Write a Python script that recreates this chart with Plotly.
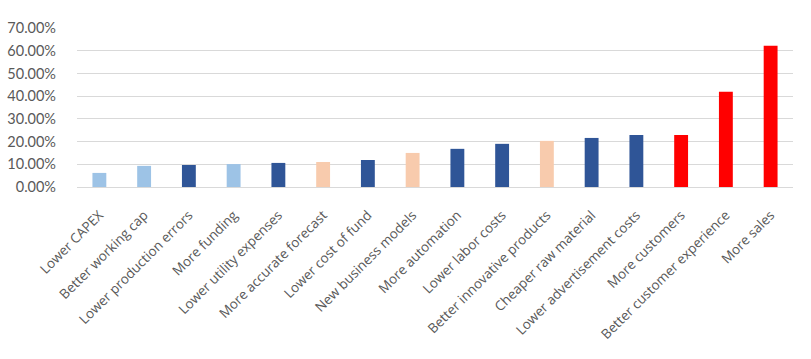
import plotly.graph_objects as go

categories = ["Lower CAPEX", "Better working cap", "Lower production errors", "More funding",
              "Lower utility expenses", "More accurate forecast", "Lower cost of fund",
              "New business models", "More automation", "Lower labor costs",
              "Better innovative products", "Cheaper raw material", "Lower advertisement costs",
              "More customers", "Better customer experience", "More sales"]
values = [0.062, 0.093, 0.097, 0.101, 0.106, 0.110, 0.119, 0.150, 0.168, 0.190,
          0.203, 0.216, 0.229, 0.229, 0.419, 0.622]
groups = ["light", "light", "dark", "light", "dark", "peach", "dark", "peach", "dark", "dark",
          "peach", "dark", "dark", "red", "red", "red"]
palette = {"light": "#9DC3E6", "dark": "#2F5597", "peach": "#F8CBAD", "red": "#FF0000"}

fig = go.Figure(go.Bar(x=categories, y=values,
                       marker=dict(color=[palette[g] for g in groups], line=dict(width=0))))
fig.update_layout(
    width=811, height=359, plot_bgcolor="white", paper_bgcolor="white",
    margin=dict(l=77, r=18, t=28, b=172), bargap=0.69, showlegend=False,
)
fig.update_xaxes(tickangle=-45, tickfont=dict(family="Open Sans", size=13.5, color="#595959"),
                 showgrid=False, showline=True, linecolor="#D9D9D9", ticks="",
                 automargin=False, ticklabelstandoff=14)
fig.update_yaxes(range=[0, 0.7], dtick=0.1, tickformat=".2%", gridcolor="#D9D9D9",
                 tickfont=dict(family="Lato", size=14.5, color="#595959"), zeroline=False,
                 ticks="", ticklabelstandoff=20, automargin=False)
fig.write_html("out.html", config={"displayModeBar": False},
               post_script="document.body.style.margin='0';")
